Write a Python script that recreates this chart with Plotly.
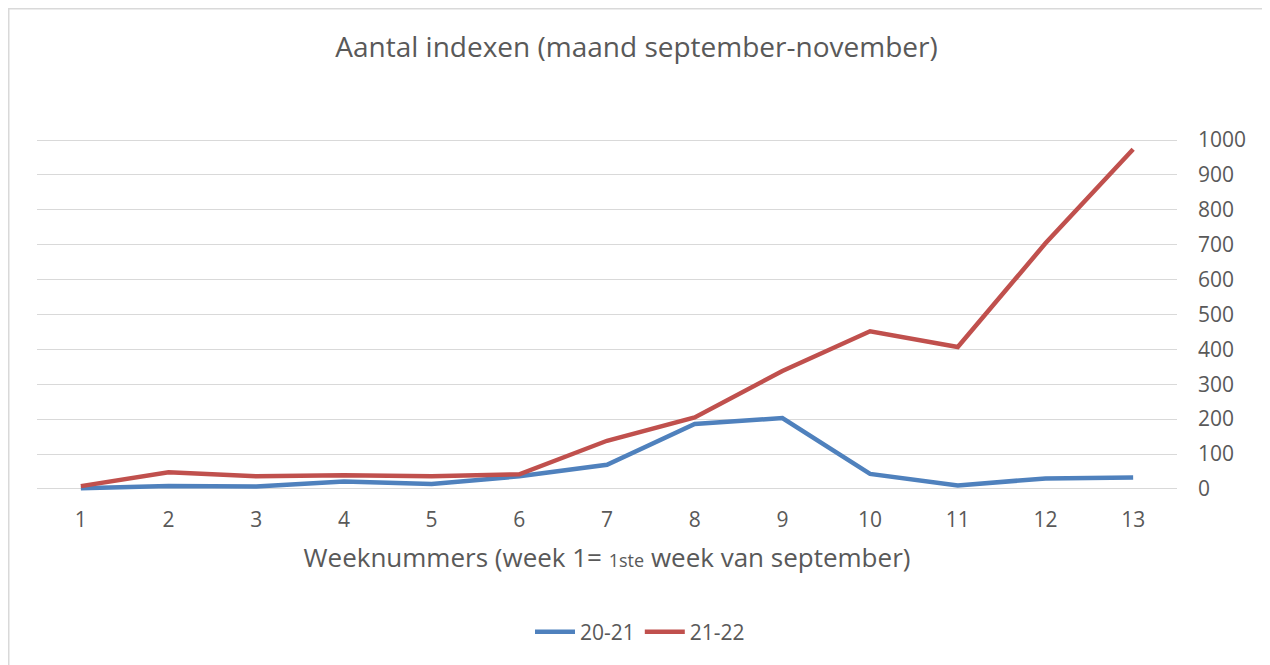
import plotly.graph_objects as go

# Data
weeks = [str(i) for i in range(1, 14)]
s2021 = [2, 8, 7, 21, 14, 36, 69, 186, 203, 43, 10, 30, 33]
s2122 = [8, 48, 36, 39, 36, 42, 138, 205, 338, 452, 407, 704, 974]

grey_text = '#595959'
font_family = 'Open Sans, Calibri, sans-serif'

# the page puts the figure 8px in from the top-left corner
left, top, pw, ph = 29, 130, 1140, 353

fig = go.Figure()

fig.add_trace(go.Scatter(
    x=weeks, y=s2021, name='20-21', mode='lines',
    line=dict(color='#4F81BD', width=4.5)
))
fig.add_trace(go.Scatter(
    x=weeks, y=s2122, name='21-22', mode='lines',
    line=dict(color='#C0504D', width=4.5)
))

fig.update_layout(
    width=1270, height=665,
    margin=dict(l=left, r=1270 - left - pw, t=top, b=665 - top - ph, autoexpand=False),
    paper_bgcolor='white', plot_bgcolor='white',
    font=dict(family=font_family, color=grey_text, size=21),
    title=dict(
        text='Aantal indexen (maand september-november)',
        x=628.5 / 1270, xref='container', xanchor='center',
        y=1 - 39 / 665, yref='container', yanchor='middle',
        font=dict(size=28, color=grey_text)
    ),
    xaxis=dict(
        type='category', range=[-0.5, 12.5],
        showgrid=False, zeroline=False, showline=False,
        ticks='outside', ticklen=0, ticklabelstandoff=10,
        tickfont=dict(size=21, color=grey_text),
        title=dict(
            text="Weeknummers (week 1= <span style='font-size:18px'>1ste</span> week van september)",
            font=dict(size=26, color=grey_text),
            standoff=16
        )
    ),
    yaxis=dict(
        side='right',
        range=[-6, 1006], tickvals=list(range(0, 1001, 100)),
        showgrid=True, gridcolor='#D9D9D9', gridwidth=1.2,
        zeroline=False, showline=False,
        ticklabelstandoff=20,
        tickfont=dict(size=21, color=grey_text)
    ),
    legend=dict(
        orientation='h',
        x=(632 - left) / pw, xanchor='center',
        y=(top + ph - 624) / ph, yanchor='middle',
        font=dict(size=21, color=grey_text),
        itemwidth=40
    ),
    shapes=[dict(
        type='rect', xref='paper', yref='paper',
        x0=(0.5 - left) / pw, x1=(1258.5 - left) / pw,
        y0=(top + ph - 700) / ph, y1=(top + ph - 0.5) / ph,
        line=dict(color='#D9D9D9', width=2)
    )]
)

fig.write_html("out.html")
